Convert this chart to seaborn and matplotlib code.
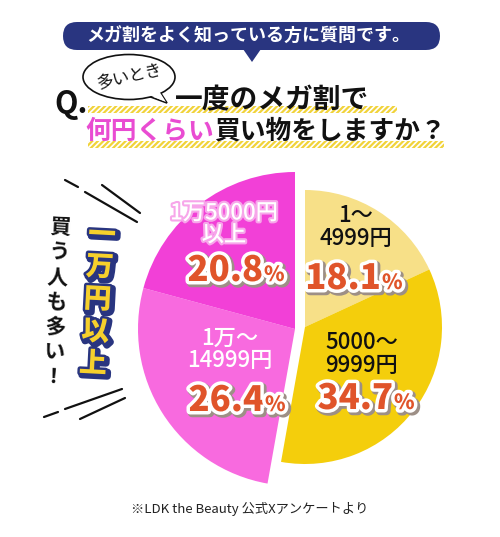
import matplotlib
matplotlib.use("Agg")
import matplotlib.pyplot as plt
import matplotlib.patheffects as pe
from matplotlib.patches import FancyBboxPatch, Polygon, Ellipse, Rectangle
import seaborn as sns

# data
ranges = ["1〜\n4999円", "5000〜\n9999円", "1万〜\n14999円", "1万5000円\n以上"]
shares = [18.1, 34.7, 26.4, 20.8]
slice_colors = ["#F7E088", "#F4CE0C", "#F86ADF", "#F240D7"]

sns.set_style("white")
plt.rcParams["font.family"] = ["Noto Sans CJK JP", "DejaVu Sans"]
plt.rcParams["hatch.linewidth"] = 1.6

NAVY = "#293580"
PCT = "#E0542A"

fig = plt.figure(figsize=(5.0, 5.37), dpi=100)
ax = fig.add_axes([0, 0, 1, 1])

# yellow half (first two slices) and pink half (last two) drawn as two pies
yellow_vals = shares[:2] + [sum(shares[2:])]
pink_vals = [sum(shares[:2])] + shares[2:]
w1, _ = ax.pie(yellow_vals, colors=slice_colors[:2] + ["none"], startangle=-90,
               counterclock=True, center=(305, 327), radius=137,
               wedgeprops=dict(linewidth=0))
w2, _ = ax.pie(pink_vals, colors=["none"] + slice_colors[2:], startangle=-90,
               counterclock=True, center=(295, 329), radius=157,
               wedgeprops=dict(linewidth=0))
w1[-1].set_visible(False)
w2[0].set_visible(False)

ax.set_xlim(0, 500)
ax.set_ylim(537, 0)
ax.set_aspect("equal")
ax.axis("off")

# header box
box = FancyBboxPatch((63, 22), 377, 28, boxstyle="round,pad=0,rounding_size=14",
                     fc=NAVY, ec="none")
ax.add_patch(box)
ax.add_patch(Polygon([(243, 49), (261, 49), (252, 62)], closed=True, fc=NAVY, ec="none"))
ax.text(248, 36, "メガ割をよく知っている方に質問です。", color="white", fontsize=13,
        fontweight="bold", ha="center", va="center")

# hatched yellow underlines
for x0, y0, w in [(88, 106, 309), (88, 141, 356)]:
    ax.add_patch(Rectangle((x0, y0), w, 7, fc="none", ec="#F1D33A", lw=0, hatch="//////"))

# question
ax.text(54, 104, "Q.", fontsize=22, fontweight="bold", ha="left", va="center", color="#111")
ax.add_patch(Polygon([(148, 96), (167, 103), (160, 92)], closed=True, fc="white",
                     ec="#111", lw=1.2))
ax.add_patch(Ellipse((129, 77), 92, 45, fc="white", ec="#111", lw=1.2))
ax.add_patch(Polygon([(149, 95), (166, 102), (159, 91)], closed=True, fc="white", ec="none"))
ax.text(130, 77, "多いとき", fontsize=12, rotation=13, ha="center", va="center", color="#111")
ax.text(175, 100, "一度のメガ割で", fontsize=20, fontweight="bold", ha="left",
        va="center", color="#111")
ax.text(214, 131, "何円くらい", fontsize=18.5, fontweight="bold", ha="right",
        va="center", color="#E94CD2")
ax.text(214, 131, "買い物をしますか？", fontsize=18.5, fontweight="bold", ha="left",
        va="center", color="#111")

# slice labels
pct_fx = [pe.Stroke(offset=(1.5, -1.5), linewidth=6, foreground="#9d8f86"),
          pe.Stroke(linewidth=5, foreground="white"), pe.Normal()]
lab_pos = [(356, 227), (362, 354), (230, 349), (224, 224)]
pct_pos = [(381, 289), (393, 409), (264, 411), (263, 281)]
lab_col = ["#111", "#111", "white", "white"]
lab_fx = [None, None, None,
          [pe.Stroke(linewidth=3, foreground="#F7A6EA"), pe.Normal()]]
for i in range(4):
    ax.text(*lab_pos[i], ranges[i], fontsize=16, fontweight="medium", color=lab_col[i],
            ha="center", va="center", linespacing=0.95, path_effects=lab_fx[i])
    ax.text(*pct_pos[i], f"{shares[i]}", fontsize=25, fontweight="black", color=PCT,
            ha="right", va="baseline", path_effects=pct_fx)
    ax.text(pct_pos[i][0] + 1, pct_pos[i][1], "%", fontsize=15, fontweight="black",
            color=PCT, ha="left", va="baseline", path_effects=pct_fx)


def vertical(text, p0, p1, **kw):
    n = len(text)
    for k, ch in enumerate(text):
        t = k / (n - 1)
        ax.text(p0[0] + (p1[0] - p0[0]) * t, p0[1] + (p1[1] - p0[1]) * t, ch,
                ha="center", va="center", rotation=-3, **kw)


vertical("一万円以上", (102, 235), (93, 364), fontsize=20, fontweight="black",
         color="#F6D02C",
         path_effects=[pe.Stroke(offset=(1.5, -1.5), linewidth=5, foreground=NAVY),
                       pe.Stroke(linewidth=3.5, foreground=NAVY), pe.Normal()])
vertical("買う人も多い！", (60, 228), (53, 377), fontsize=15, fontweight="bold", color="#111")

# slanted accent lines
for (xa, ya), (xb, yb) in [((65, 180), (78, 187)), ((85, 192), (137, 222)),
                           ((102, 185), (140, 213)), ((44, 417), (58, 412)),
                           ((65, 409), (122, 389)), ((80, 419), (125, 398))]:
    ax.plot([xa, xb], [ya, yb], color="#111", lw=1.6, solid_capstyle="round")

ax.text(250, 509, "※LDK the Beauty 公式Xアンケートより", fontsize=9.5, ha="center",
        va="center", color="#222")

fig.savefig("out.png", dpi=100)
